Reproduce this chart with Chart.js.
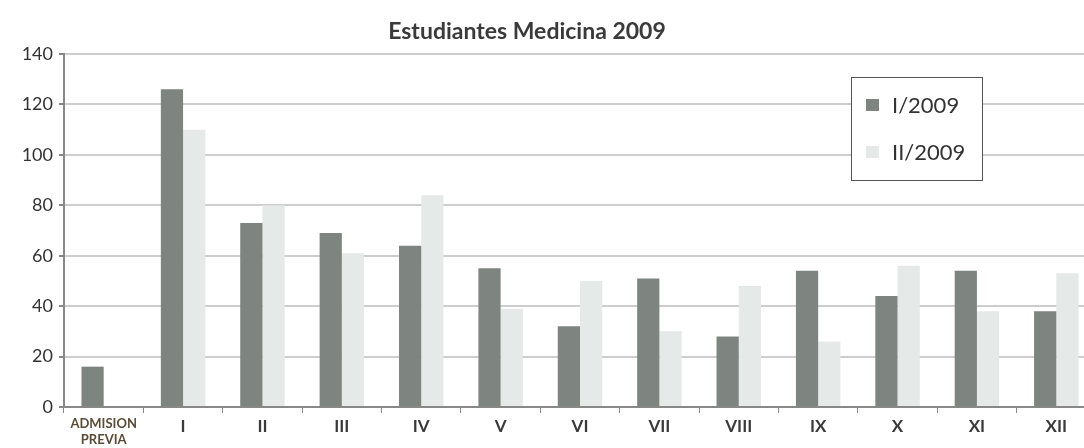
<!DOCTYPE html>
<html>
<head>
<meta charset="utf-8">
<script src="https://cdn.jsdelivr.net/npm/chart.js@4/dist/chart.umd.min.js"></script>
<style>
  html, body { margin: 0; padding: 0; background: #fff; overflow: hidden; }
  #wrap { position: relative; width: 1096px; height: 448px; }
</style>
</head>
<body>
<div id="wrap"><canvas id="chart"></canvas></div>
<script>
const chartTitle = 'Estudiantes Medicina 2009';
const categories = [['ADMISION', 'PREVIA'], 'I', 'II', 'III', 'IV', 'V', 'VI', 'VII', 'VIII', 'IX', 'X', 'XI', 'XII'];
const seriesNames = ['I/2009', 'II/2009'];
const firstTerm = [16, 126, 73, 69, 64, 55, 32, 51, 28, 54, 44, 54, 38];
const secondTerm = [null, 110, 80, 61, 84, 39, 50, 30, 48, 26, 56, 38, 53];
const yTicks = [0, 20, 40, 60, 80, 100, 120, 140];

const darkGray = '#7e8581';
const lightGray = '#e5e9e7';
const fontFamily = 'Lato, "Open Sans", sans-serif';

// title drawn by hand so it can sit where the scan has it
const titlePlugin = {
    id: 'scanTitle',
    afterDraw(chart) {
        const ctx = chart.ctx;
        ctx.save();
        ctx.font = 'bold 23px ' + fontFamily;
        ctx.fillStyle = '#3a3a3a';
        ctx.textAlign = 'center';
        ctx.textBaseline = 'middle';
        ctx.fillText(chartTitle, 527, 32);
        ctx.restore();
    }
};

// boxed legend inside the plot, as in the picture
const boxLegend = {
    id: 'boxLegend',
    afterDraw(chart) {
        const ctx = chart.ctx;
        const x = 851, y = 77, w = 131, h = 103;
        ctx.save();
        ctx.fillStyle = '#fff';
        ctx.fillRect(x, y, w, h);
        ctx.strokeStyle = '#555';
        ctx.lineWidth = 1;
        ctx.strokeRect(x + 0.5, y + 0.5, w, h);
        ctx.font = '22px ' + fontFamily;
        ctx.textBaseline = 'middle';
        chart.data.datasets.forEach(function(ds, i) {
            const cy = y + 28 + i * 47;
            ctx.fillStyle = ds.backgroundColor;
            ctx.fillRect(x + 15, cy - 6, 13, 12);
            ctx.fillStyle = '#333';
            ctx.fillText(ds.label, x + 41, cy + 1);
        });
        ctx.restore();
    }
};

new Chart(document.getElementById('chart'), {
    type: 'bar',
    data: {
        labels: categories,
        datasets: [{
            label: seriesNames[0],
            data: firstTerm,
            backgroundColor: darkGray,
            categoryPercentage: 0.56,
            barPercentage: 1.0
        }, {
            label: seriesNames[1],
            data: secondTerm,
            backgroundColor: lightGray,
            categoryPercentage: 0.56,
            barPercentage: 1.0
        }]
    },
    options: {
        responsive: true,
        maintainAspectRatio: false,
        animation: false,
        layout: { padding: { top: 54, right: 0, left: 0, bottom: 0 } },
        plugins: {
            legend: { display: false },
            title: { display: false },
            tooltip: { enabled: false }
        },
        scales: {
            x: {
                offset: true,
                grid: {
                    display: true,
                    drawOnChartArea: false,
                    drawTicks: true,
                    tickLength: 6,
                    offset: true,
                    color: '#888'
                },
                border: { color: '#888', width: 2 },
                ticks: {
                    color: function(c) { return c.index === 0 ? '#5a4c36' : '#3a3a3a'; },
                    padding: 3,
                    maxRotation: 0,
                    autoSkip: false,
                    font: function(c) {
                        return c.index === 0
                            ? { family: fontFamily, size: 13, weight: 'bold', lineHeight: 1.2 }
                            : { family: fontFamily, size: 17, weight: 'bold' };
                    }
                },
                afterFit: function(scale) { scale.height = 41; }
            },
            y: {
                min: 0,
                max: 140,
                afterBuildTicks: function(scale) {
                    scale.ticks = yTicks.map(function(v) { return { value: v }; });
                },
                grid: {
                    color: '#cdcdcd',
                    lineWidth: 2,
                    tickLength: 5,
                    tickColor: '#888'
                },
                border: { color: '#888', width: 2 },
                ticks: {
                    color: '#333',
                    padding: 6,
                    font: { family: fontFamily, size: 18 }
                },
                afterFit: function(scale) { scale.width = 64; }
            }
        }
    },
    plugins: [titlePlugin, boxLegend]
});
</script>
</body>
</html>
